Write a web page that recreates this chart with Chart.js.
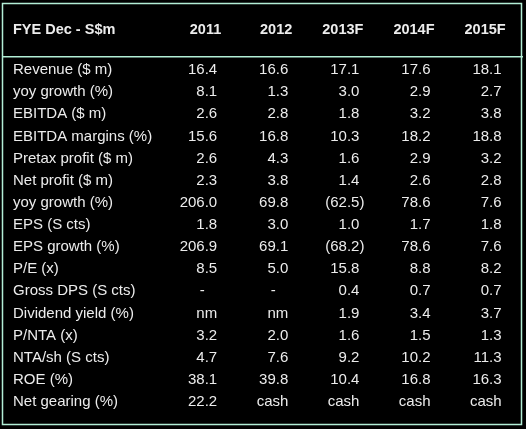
<!DOCTYPE html>
<html>
<head>
<meta charset="utf-8">
<script src="https://cdn.jsdelivr.net/npm/chart.js@4"></script>
<style>
  body { margin: 0; background: #000; }
  #wrap { width: 526px; height: 429px; }
</style>
</head>
<body>
<div id="wrap"><canvas id="myChart" width="526" height="429"></canvas></div>
<script>
// table contents
let corner = 'FYE Dec - S$m'
let years = ['2011', '2012', '2013F', '2014F', '2015F']
let rowLabels = ['Revenue ($ m)', 'yoy growth (%)', 'EBITDA ($ m)', 'EBITDA margins (%)', 'Pretax profit ($ m)',
  'Net profit ($ m)', 'yoy growth (%)', 'EPS (S cts)', 'EPS growth (%)', 'P/E (x)', 'Gross DPS (S cts)',
  'Dividend yield (%)', 'P/NTA (x)', 'NTA/sh (S cts)', 'ROE (%)', 'Net gearing (%)']
let v2011 = ['16.4', '8.1', '2.6', '15.6', '2.6', '2.3', '206.0', '1.8', '206.9', '8.5', '-', 'nm', '3.2', '4.7', '38.1', '22.2']
let v2012 = ['16.6', '1.3', '2.8', '16.8', '4.3', '3.8', '69.8', '3.0', '69.1', '5.0', '-', 'nm', '2.0', '7.6', '39.8', 'cash']
let v2013 = ['17.1', '3.0', '1.8', '10.3', '1.6', '1.4', '(62.5)', '1.0', '(68.2)', '15.8', '0.4', '1.9', '1.6', '9.2', '10.4', 'cash']
let v2014 = ['17.6', '2.9', '3.2', '18.2', '2.9', '2.6', '78.6', '1.7', '78.6', '8.8', '0.7', '3.4', '1.5', '10.2', '16.8', 'cash']
let v2015 = ['18.1', '2.7', '3.8', '18.8', '3.2', '2.8', '7.6', '1.8', '7.6', '8.2', '0.7', '3.7', '1.3', '11.3', '16.3', 'cash']
let columns = [v2011, v2012, v2013, v2014, v2015]

const HEADER_ROW = -1.8
const textColor = '#ececec'
const lineColor = '#b2eed6'

// one invisible point per cell; the plugin writes the text at each point
let datasets = columns.map((col, c) => ({
  label: years[c],
  data: col.map((txt, r) => ({ x: c, y: r, txt: txt })),
  pointRadius: 0,
  showLine: false
}))

const tablePlugin = {
  id: 'tableText',
  afterDatasetsDraw(chart) {
    const ctx = chart.ctx
    const xs = chart.scales.x
    const ys = chart.scales.y
    const area = chart.chartArea
    ctx.save()

    // frame + header rule
    ctx.strokeStyle = lineColor
    ctx.lineWidth = 1.5
    ctx.strokeRect(area.left + 2.5, area.top + 3.5, area.right - area.left - 7, area.bottom - area.top - 8)
    let hy = ys.getPixelForValue(-0.6)
    ctx.beginPath()
    ctx.moveTo(area.left + 2, hy)
    ctx.lineTo(area.right - 3, hy)
    ctx.stroke()

    ctx.fillStyle = textColor
    ctx.textBaseline = 'middle'

    // header
    ctx.font = 'bold 14.5px "Liberation Sans", Arial, sans-serif'
    ctx.textAlign = 'left'
    let hY = ys.getPixelForValue(HEADER_ROW)
    ctx.fillText(corner, area.left + 13, hY)
    ctx.textAlign = 'right'
    years.forEach((y, c) => {
      ctx.fillText(y, xs.getPixelForValue(c) + 4, hY)
    })

    // body
    ctx.font = '15px "Liberation Sans", Arial, sans-serif'
    ctx.textAlign = 'left'
    rowLabels.forEach((lab, r) => {
      ctx.fillText(lab, area.left + 13, ys.getPixelForValue(r))
    })
    chart.data.datasets.forEach((ds, c) => {
      const meta = chart.getDatasetMeta(c)
      meta.data.forEach((pt, r) => {
        const txt = ds.data[r].txt
        if (txt === '-') {
          ctx.textAlign = 'center'
          ctx.fillText(txt, pt.x - 15, pt.y)
        } else {
          ctx.textAlign = 'right'
          let x = pt.x
          if (txt.endsWith(')')) x += ctx.measureText(')').width
          ctx.fillText(txt, x, pt.y)
        }
      })
    })
    ctx.restore()
  }
}

let ctx = document.getElementById('myChart')
new Chart(ctx, {
  type: 'scatter',
  data: { datasets: datasets },
  options: {
    responsive: false,
    animation: false,
    layout: { padding: 0 },
    plugins: { legend: { display: false }, tooltip: { enabled: false } },
    scales: {
      x: { type: 'linear', display: false, min: -3.055, max: 4.343 },
      y: { type: 'linear', display: false, reverse: true, min: -3.163, max: 16.22 }
    }
  },
  plugins: [tablePlugin]
})
</script>
</body>
</html>
